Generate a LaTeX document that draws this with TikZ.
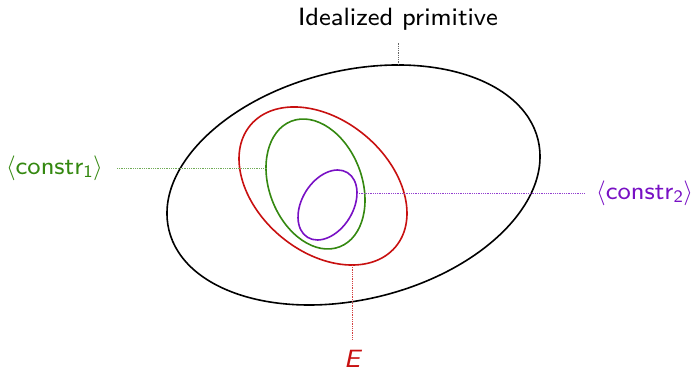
\documentclass[tikz,border=0pt]{standalone}
\usepackage{amsmath}
\usepackage{fontspec}
\setsansfont{lmsans8-regular.otf}[ItalicFont=lmsans8-oblique.otf]
\renewcommand{\familydefault}{\sfdefault}
\definecolor{cblack}{RGB}{0,0,0}
\definecolor{cred}{RGB}{200,16,16}
\definecolor{cgreen}{RGB}{52,136,16}
\definecolor{cpurple}{RGB}{120,16,196}
\begin{document}
\begin{tikzpicture}[x=1pt,y=1pt,
  ell/.style={line width=1.6pt},
  lead/.style={densely dotted, line width=0.8pt},
  lbl/.style={font=\fontsize{25}{30}\selectfont\sffamily, inner sep=0pt}]
\useasboundingbox (0,0) rectangle (694,371);
% ellipses
\draw[ell,cblack] (353.5,186) ellipse[x radius=190, y radius=114.4, rotate=13.8];
\draw[ell,cred] (323,185) ellipse[x radius=94.7, y radius=65.8, rotate=-40];
\draw[ell,cgreen] (315.5,187) ellipse[x radius=67.3, y radius=46.3, rotate=-69];
\draw[ell,cpurple] (327.5,166) ellipse[x radius=38, y radius=25.5, rotate=58.3];
% anchor points on ellipses
\coordinate (ptop) at (398,306);
\coordinate (pgreen) at (267,203);
\coordinate (ppurple) at (357,178);
\coordinate (pred) at (352,106);
% labels
\node[lbl] (ideal) at (398,352) {Idealized primitive};
\node[lbl,text=cgreen,anchor=east] (c1) at (103,203) {$\langle\text{constr}_{\text{1}}\rangle$};
\node[lbl,text=cpurple,anchor=west] (c2) at (596,178) {$\langle\text{constr}_{\text{2}}\rangle$};
\node[lbl,text=cred] (e) at (352,12) {\itshape E};
% leaders
\draw[lead,black!60] (ptop) -- (398,328);
\draw[lead,cgreen!70] (117,203) -- (pgreen);
\draw[lead,cpurple!80] (ppurple) -- (585,178);
\draw[lead,cred!80] (pred) -- (352,31);
\end{tikzpicture}
\end{document}
